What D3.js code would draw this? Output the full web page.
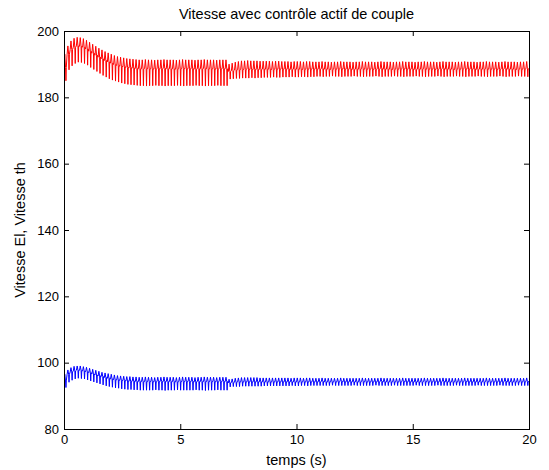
<!DOCTYPE html>
<html><head><meta charset="utf-8">
<script src="https://cdn.jsdelivr.net/npm/d3@7"></script>
<style>
body{margin:0;background:#fff;}
text{font-family:"Liberation Sans",Arial,Helvetica,sans-serif;fill:#000;}
</style></head>
<body><svg id="c" width="549" height="470"></svg>
<script>
// ---- data ----
const titre = "Vitesse avec contrôle actif de couple";
const labelX = "temps (s)";
const labelY = "Vitesse El, Vitesse th";
const xTicks = [0, 5, 10, 15, 20];
const yTicks = [80, 100, 120, 140, 160, 180, 200];
const xDomain = [0, 20];
const yDomain = [80, 200];
const periode = 20 / 150; // one oscillation cycle (s), ~150 cycles over 20 s

// Vitesse El (red): per-cycle maximum, level of the band, minimum
const elHaut = [
193.0,195.5,197.0,197.8,198.1,198.0,197.7,197.2,196.6,196.0,
195.4,194.8,194.3,193.8,193.4,193.0,192.6,192.3,192.1,191.9,
191.7,191.6,191.5,191.4,
191.3,191.3,191.4,191.3,191.3,191.2,191.3,191.3,191.4,191.3,
191.3,191.3,191.2,191.3,191.4,191.3,191.3,191.3,191.2,191.3,
191.3,191.4,191.3,191.3,191.3,191.2,191.3,191.3,191.3,
190.0,190.3,190.6,190.8,
191.0,191.0,191.1,191.0,191.0,191.0,190.9,
190.9,190.9,190.9,190.8,190.9,190.9,190.8,
190.8,190.8,190.7,190.8,190.8,190.8,190.7,190.8,190.8,190.7,
190.7,190.7,190.8,190.7,190.7,190.6,190.7,190.7,190.8,190.7,
190.7,190.7,190.6,190.7,190.7,190.8,190.7,190.7,190.7,190.6,
190.7,190.8,190.7,190.7,190.7,190.6,190.7,190.7,190.8,190.7,
190.7,190.7,190.6,190.7,190.7,190.8,190.7,190.7,190.7,190.6,
190.7,190.8,190.7,190.7,190.7,190.6,190.7,190.7,190.8,190.7,
190.7,190.7,190.6,190.7,190.7,190.8,190.7,190.7,190.7,190.6,
190.7,190.8,190.7,190.7,190.7,190.6,190.7,190.7,190.8];
const elMilieu = [
189.0,193.0,194.4,195.1,195.5,195.4,195.1,194.6,193.9,193.3,
192.7,192.1,191.6,191.1,190.7,190.3,189.9,189.6,189.4,189.2,
189.0,188.9,188.8,188.7,
188.6,188.6,188.7,188.6,188.6,188.5,188.6,188.6,188.7,188.6,
188.6,188.6,188.5,188.6,188.7,188.6,188.6,188.6,188.5,188.6,
188.6,188.7,188.6,188.6,188.6,188.5,188.6,188.6,188.6,
187.8,188.0,188.2,188.3,
188.4,188.4,188.5,188.4,188.4,188.4,188.4,
188.5,188.5,188.5,188.4,188.5,188.5,188.5,
188.5,188.5,188.4,188.5,188.5,188.5,188.4,188.5,188.5,188.5,
188.5,188.5,188.6,188.5,188.5,188.4,188.5,188.5,188.6,188.5,
188.5,188.5,188.4,188.5,188.5,188.6,188.5,188.5,188.5,188.4,
188.5,188.6,188.5,188.5,188.5,188.4,188.5,188.5,188.6,188.5,
188.5,188.5,188.4,188.5,188.5,188.6,188.5,188.5,188.5,188.4,
188.5,188.6,188.5,188.5,188.5,188.4,188.5,188.5,188.6,188.5,
188.5,188.5,188.4,188.5,188.5,188.6,188.5,188.5,188.5,188.4,
188.5,188.6,188.5,188.5,188.5,188.4,188.5,188.5,188.6];
const elBas = [
185.0,188.3,189.5,190.2,190.6,190.5,190.2,189.7,189.0,188.4,
187.8,187.2,186.6,186.1,185.6,185.2,184.9,184.6,184.3,184.1,
183.9,183.8,183.7,183.6,
183.5,183.5,183.4,183.5,183.5,183.6,183.5,183.5,183.4,183.5,
183.5,183.5,183.6,183.5,183.4,183.5,183.5,183.5,183.6,183.5,
183.5,183.4,183.5,183.5,183.5,183.6,183.5,183.5,183.5,
185.5,185.6,185.7,185.7,
185.8,185.8,185.8,185.9,185.8,185.9,185.9,
186.0,186.0,186.0,186.1,186.0,186.0,186.1,
186.1,186.1,186.2,186.1,186.1,186.2,186.2,186.1,186.2,186.2,
186.3,186.3,186.2,186.3,186.3,186.4,186.3,186.3,186.2,186.3,
186.3,186.3,186.4,186.3,186.3,186.2,186.3,186.3,186.3,186.4,
186.3,186.2,186.3,186.3,186.3,186.4,186.3,186.3,186.2,186.3,
186.3,186.3,186.4,186.3,186.3,186.2,186.3,186.3,186.3,186.4,
186.3,186.2,186.3,186.3,186.3,186.4,186.3,186.3,186.2,186.3,
186.3,186.3,186.4,186.3,186.3,186.2,186.3,186.3,186.3,186.4,
186.3,186.2,186.3,186.3,186.3,186.4,186.3,186.3,186.2];

// Vitesse th (blue)
const thHaut = [
96.5,97.8,98.5,98.9,99.0,99.0,98.8,98.6,98.3,98.0,
97.7,97.4,97.1,96.9,96.7,96.5,96.3,96.1,96.0,95.9,
95.8,95.8,95.7,95.7,
95.6,95.6,95.7,95.6,95.6,95.5,95.6,95.6,95.7,95.6,
95.6,95.6,95.5,95.6,95.7,95.6,95.6,95.6,95.5,95.6,
95.6,95.7,95.6,95.6,95.6,95.5,95.6,95.6,95.6,
95.0,95.1,95.3,95.4,
95.5,95.5,95.5,95.5,95.5,95.5,95.4,
95.4,95.4,95.4,95.4,95.4,95.4,95.4,
95.4,95.4,95.3,95.4,95.4,95.4,95.3,95.4,95.4,95.3,
95.3,95.3,95.4,95.3,95.3,95.3,95.3,95.3,95.4,95.3,
95.3,95.3,95.3,95.3,95.3,95.4,95.3,95.3,95.3,95.3,
95.3,95.4,95.3,95.3,95.3,95.3,95.3,95.3,95.4,95.3,
95.3,95.3,95.3,95.3,95.3,95.4,95.3,95.3,95.3,95.3,
95.3,95.4,95.3,95.3,95.3,95.3,95.3,95.3,95.4,95.3,
95.3,95.3,95.3,95.3,95.3,95.4,95.3,95.3,95.3,95.3,
95.3,95.4,95.3,95.3,95.3,95.3,95.3,95.3,95.4];
const thMilieu = [
94.5,96.5,97.2,97.5,97.7,97.7,97.5,97.3,97.0,96.6,
96.3,96.0,95.8,95.5,95.3,95.1,94.9,94.8,94.7,94.6,
94.5,94.4,94.4,94.3,
94.3,94.3,94.3,94.3,94.3,94.2,94.3,94.3,94.3,94.3,
94.3,94.3,94.2,94.3,94.3,94.3,94.3,94.3,94.2,94.3,
94.3,94.3,94.3,94.3,94.3,94.2,94.3,94.3,94.3,
93.9,94.0,94.1,94.2,
94.2,94.2,94.2,94.2,94.2,94.2,94.2,
94.2,94.2,94.2,94.2,94.2,94.2,94.2,
94.2,94.2,94.2,94.2,94.2,94.2,94.2,94.2,94.2,94.2,
94.2,94.2,94.3,94.2,94.2,94.2,94.2,94.2,94.3,94.2,
94.2,94.2,94.2,94.2,94.2,94.3,94.2,94.2,94.2,94.2,
94.2,94.3,94.2,94.2,94.2,94.2,94.2,94.2,94.3,94.2,
94.2,94.2,94.2,94.2,94.2,94.3,94.2,94.2,94.2,94.2,
94.2,94.3,94.2,94.2,94.2,94.2,94.2,94.2,94.3,94.2,
94.2,94.2,94.2,94.2,94.2,94.3,94.2,94.2,94.2,94.2,
94.2,94.3,94.2,94.2,94.2,94.2,94.2,94.2,94.3];
const thBas = [
92.5,94.1,94.7,95.1,95.3,95.2,95.1,94.8,94.5,94.2,
93.9,93.6,93.3,93.0,92.8,92.6,92.4,92.3,92.1,92.0,
91.9,91.9,91.8,91.8,
91.7,91.7,91.7,91.7,91.7,91.8,91.7,91.7,91.6,91.7,
91.7,91.7,91.8,91.7,91.7,91.7,91.7,91.7,91.8,91.7,
91.7,91.6,91.7,91.7,91.7,91.8,91.7,91.7,91.7,
92.7,92.8,92.8,92.8,
92.9,92.9,92.9,92.9,92.9,92.9,92.9,
93.0,93.0,93.0,93.0,93.0,93.0,93.0,
93.0,93.0,93.1,93.0,93.0,93.1,93.1,93.0,93.1,93.1,
93.1,93.1,93.1,93.1,93.1,93.2,93.1,93.1,93.1,93.1,
93.1,93.1,93.2,93.1,93.1,93.1,93.1,93.1,93.1,93.2,
93.1,93.1,93.1,93.1,93.1,93.2,93.1,93.1,93.1,93.1,
93.1,93.1,93.2,93.1,93.1,93.1,93.1,93.1,93.1,93.2,
93.1,93.1,93.1,93.1,93.1,93.2,93.1,93.1,93.1,93.1,
93.1,93.1,93.2,93.1,93.1,93.1,93.1,93.1,93.1,93.2,
93.1,93.1,93.1,93.1,93.1,93.2,93.1,93.1,93.1];

// ---- drawing ----
const svg = d3.select("#c");
const L = 64, R = 529, T = 31, B = 429;
const x = d3.scaleLinear().domain(xDomain).range([L, R]);
const y = d3.scaleLinear().domain(yDomain).range([B, T]);

// shape of one cycle: level -> max -> level -> min -> level
function cyclePoints(haut, milieu, bas) {
  const n = Math.min(haut.length, milieu.length, bas.length);
  const pts = [];
  for (let k = 0; k < n; k++) {
    const t0 = k * periode;
    pts.push([t0, milieu[k]]);
    pts.push([t0 + 0.25 * periode, haut[k]]);
    pts.push([t0 + 0.5 * periode, milieu[k]]);
    pts.push([t0 + 0.62 * periode, bas[k]]);
    pts.push([t0 + 0.74 * periode, milieu[k]]);
  }
  pts.push([n * periode, milieu[n - 1]]);
  return pts;
}
const line = d3.line().x(d => x(d[0])).y(d => y(d[1]));

svg.append("defs").append("clipPath").attr("id", "clip")
  .append("rect").attr("x", L).attr("y", T).attr("width", R - L).attr("height", B - T);

const g = svg.append("g").attr("clip-path", "url(#clip)");
g.append("path").datum(cyclePoints(elHaut, elMilieu, elBas))
  .attr("d", line).attr("fill", "none").attr("stroke", "#ff0000").attr("stroke-width", 1);
g.append("path").datum(cyclePoints(thHaut, thMilieu, thBas))
  .attr("d", line).attr("fill", "none").attr("stroke", "#0000ff").attr("stroke-width", 1);

// axes (ticks inward, box)
const fs = "13px";
const fsL = "14.5px";
const ax = (sel) => { sel.select(".domain").remove(); sel.selectAll("line").attr("stroke", "#000"); sel.selectAll("text").style("font-size", fs).attr("fill", "#000").style("font-family", '"Liberation Sans",Arial,sans-serif'); };
svg.append("g").attr("transform", `translate(0,${B})`)
  .call(d3.axisBottom(x).tickValues(xTicks).tickSize(-5).tickPadding(6).tickFormat(d3.format("d"))).call(ax);
svg.append("g").attr("transform", `translate(0,${T})`)
  .call(d3.axisTop(x).tickValues(xTicks).tickSize(-5).tickFormat("")).call(ax);
svg.append("g").attr("transform", `translate(${L},0)`)
  .call(d3.axisLeft(y).tickValues(yTicks).tickSize(-5).tickPadding(5).tickFormat(d3.format("d"))).call(ax);
svg.append("g").attr("transform", `translate(${R},0)`)
  .call(d3.axisRight(y).tickValues(yTicks).tickSize(-5).tickFormat("")).call(ax);

svg.append("rect").attr("x", L).attr("y", T).attr("width", R - L).attr("height", B - T)
  .attr("fill", "none").attr("stroke", "#000").attr("stroke-width", 1).attr("shape-rendering", "crispEdges");

svg.append("text").attr("x", (L + R) / 2).attr("y", 19).attr("text-anchor", "middle")
  .style("font-size", fsL).text(titre);
svg.append("text").attr("x", (L + R) / 2).attr("y", 465).attr("text-anchor", "middle")
  .style("font-size", fsL).text(labelX);
svg.append("text").attr("transform", `translate(25,${(T + B) / 2}) rotate(-90)`).attr("text-anchor", "middle")
  .style("font-size", fsL).text(labelY);
</script></body></html>
